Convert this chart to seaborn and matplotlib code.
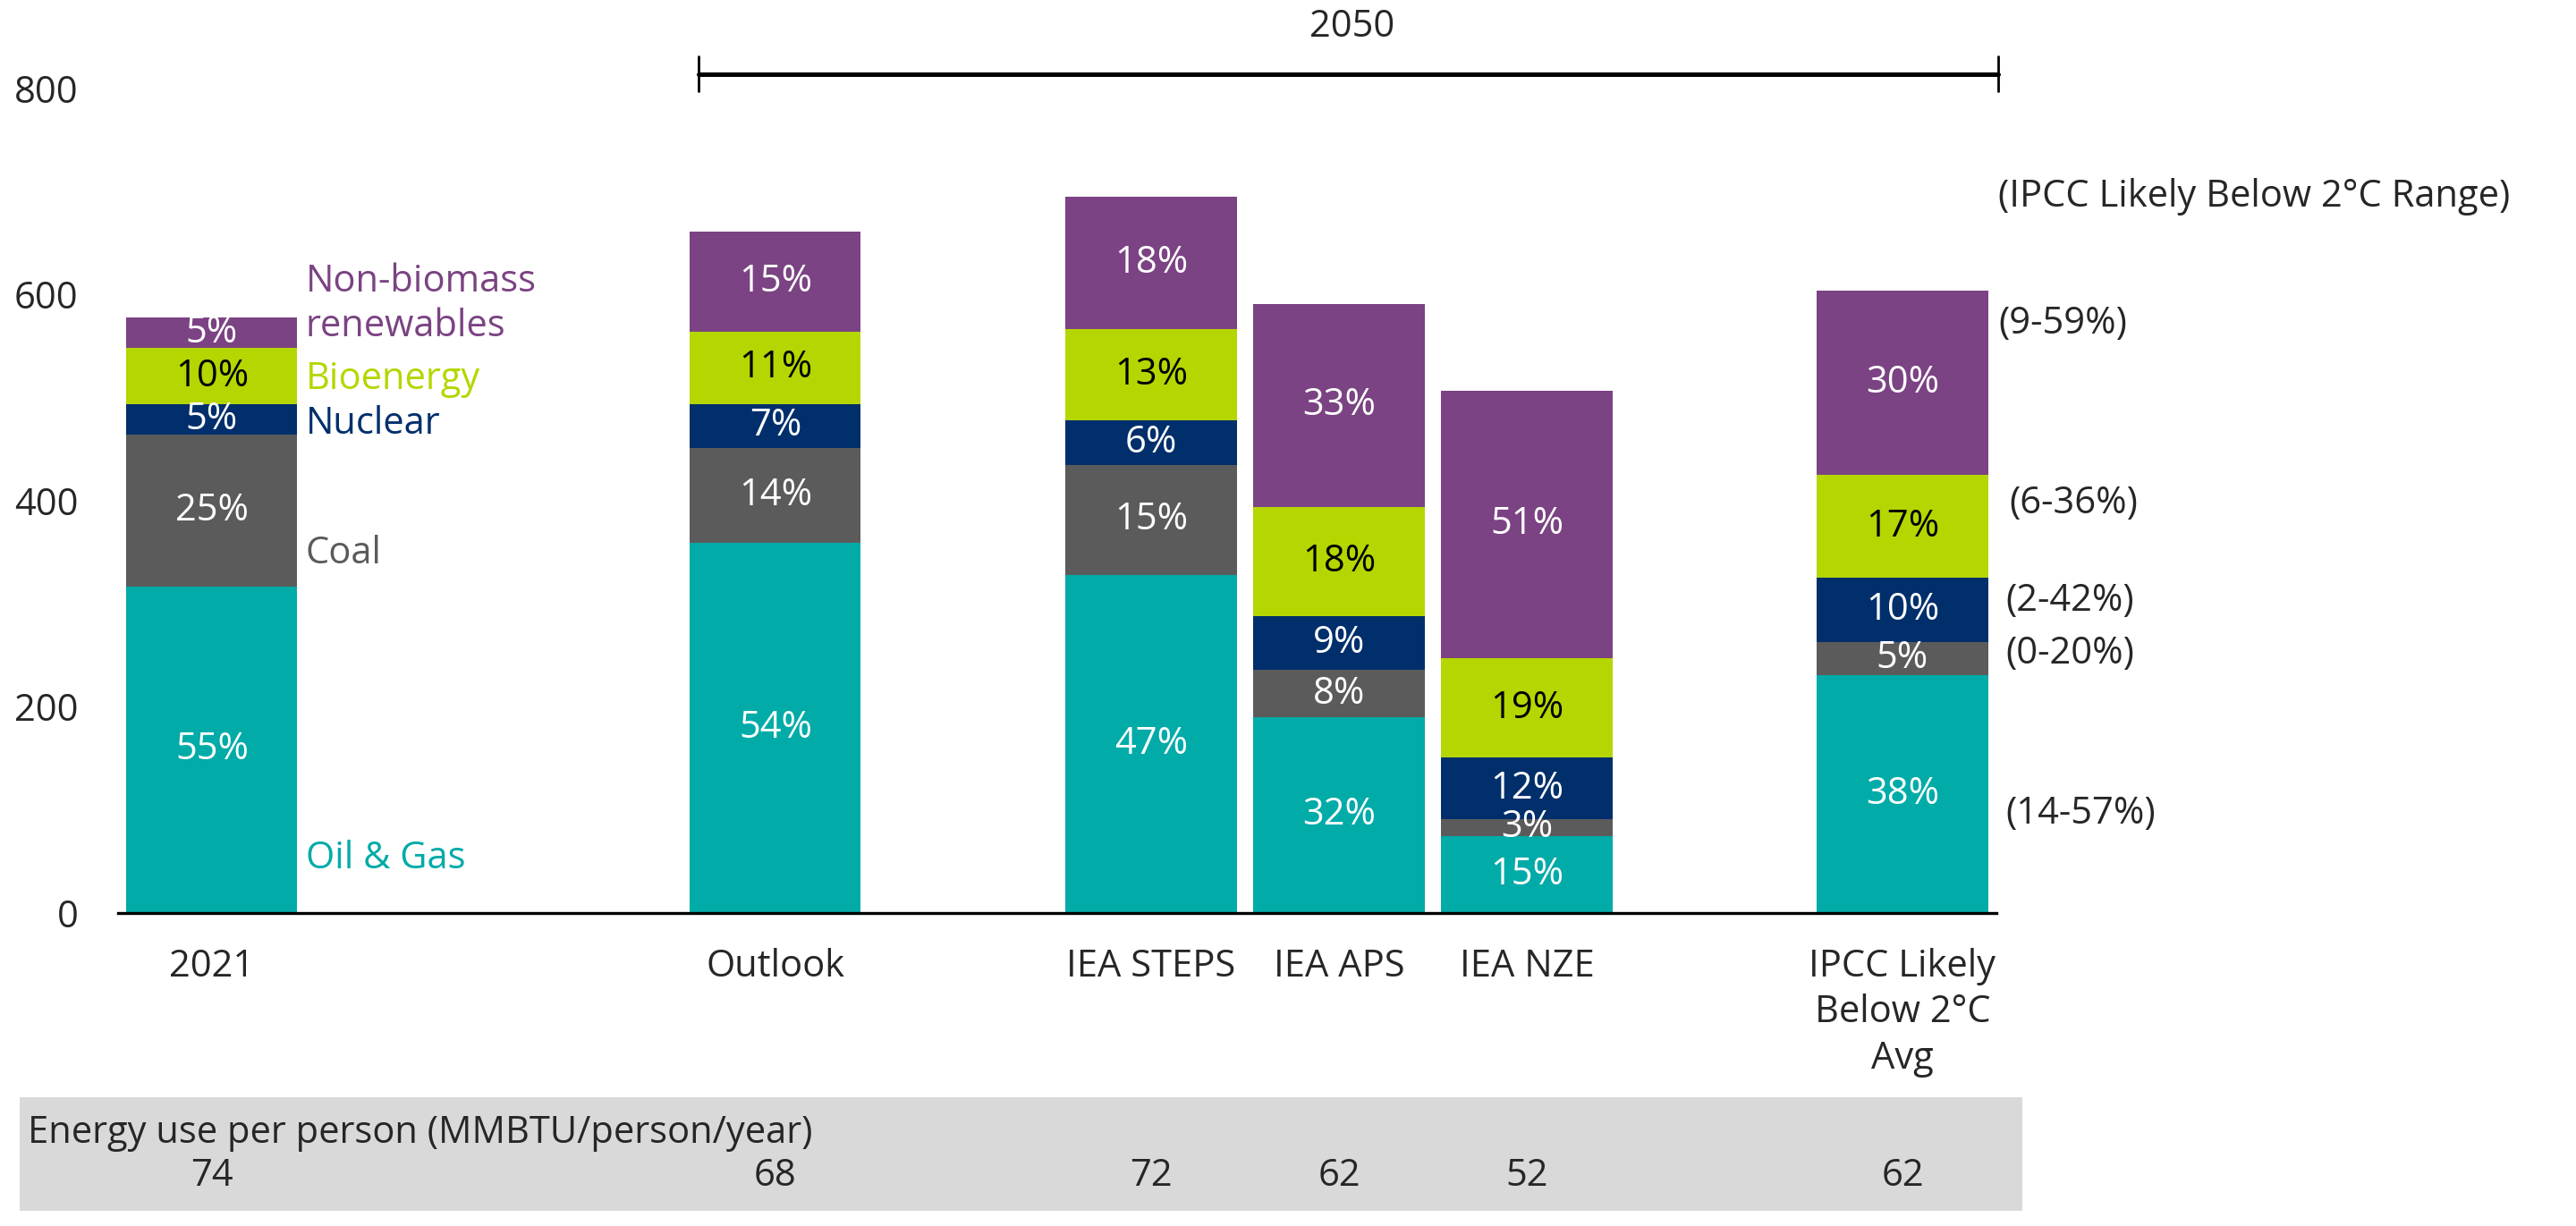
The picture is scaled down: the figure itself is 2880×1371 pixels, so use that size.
import matplotlib
matplotlib.use('Agg')
import matplotlib.pyplot as plt
import matplotlib.transforms as mtransforms
from matplotlib.patches import Rectangle
import pandas as pd
import seaborn as sns

# ---- data ----
scenarios = ['2021', 'Outlook', 'IEA STEPS', 'IEA APS', 'IEA NZE', 'IPCC Likely\nBelow 2°C\nAvg']
x_pos = [0, 3, 5, 6, 7, 9]

oil_gas = [317, 359, 328, 190, 75, 231]
coal = [147, 92, 107, 46, 16, 32]
nuclear = [30, 43, 43, 52, 60, 62]
bioenergy = [54, 70, 89, 106, 96, 100]
renewables = [30, 97, 128, 197, 260, 179]

pct_oil_gas = ['55%', '54%', '47%', '32%', '15%', '38%']
pct_coal = ['25%', '14%', '15%', '8%', '3%', '5%']
pct_nuclear = ['5%', '7%', '6%', '9%', '12%', '10%']
pct_bioenergy = ['10%', '11%', '13%', '18%', '19%', '17%']
pct_renewables = ['5%', '15%', '18%', '33%', '51%', '30%']

energy_per_person = [74, 68, 72, 62, 52, 62]
ipcc_ranges = ['(14-57%)', '(0-20%)', '(2-42%)', '(6-36%)', '(9-59%)']

# ---- settings ----
sources = ['Oil & Gas', 'Coal', 'Nuclear', 'Bioenergy', 'Non-biomass\nrenewables']
colors = ['#00ABA8', '#5B5B5B', '#002F6C', '#B5D600', '#7B4383']
text_colors = ['white', 'white', 'white', 'black', 'white']

sns.set_style('white')
plt.rcParams['font.family'] = ['Open Sans', 'DejaVu Sans']
FS = 15

df = pd.DataFrame({'x': x_pos, 'Oil & Gas': oil_gas, 'Coal': coal, 'Nuclear': nuclear,
                   'Bioenergy': bioenergy, 'Non-biomass\nrenewables': renewables})
cum = df[sources].cumsum(axis=1)
cum['x'] = x_pos

fig = plt.figure(figsize=(14.4, 6.855), dpi=200)
ax = fig.add_axes([0.0458, 0.2553, 0.7292, 0.6725])

# 積み上げ: 上の層から順に累積値で描いて下の層で上書き
for src, col in reversed(list(zip(sources, colors))):
    sns.barplot(data=cum, x='x', y=src, native_scale=True, color=col, saturation=1,
                width=0.91, errorbar=None, ax=ax, linewidth=0)

pcts = [pct_oil_gas, pct_coal, pct_nuclear, pct_bioenergy, pct_renewables]
for i, x in enumerate(x_pos):
    bottom = 0
    for j, src in enumerate(sources):
        h = df[src][i]
        ax.text(x, bottom + h / 2, pcts[j][i], ha='center', va='center',
                color=text_colors[j], fontsize=FS)
        bottom += h

# 2021 の凡例代わりのラベル
legend_y = [53, 349, 475, 518, 591]
for src, col, y in zip(sources, colors, legend_y):
    ax.text(0.5, y, src, color=col, fontsize=FS, ha='left', va='center', linespacing=1.25)

# IPCC range
ax.text(9.51, 695, '(IPCC Likely Below 2°C Range)', fontsize=FS, ha='left', va='center')
range_y = [96, 252, 303, 397, 572]
range_x = [9.55, 9.55, 9.55, 9.57, 9.51]
for txt, x, y in zip(ipcc_ranges, range_x, range_y):
    ax.text(x, y, txt, fontsize=FS, ha='left', va='center', clip_on=False)

# 2050 bracket
ax.plot([2.59, 9.51], [814, 814], color='black', lw=1.8, clip_on=False)
ax.plot([2.59, 2.59], [797, 831], color='black', lw=1.0, clip_on=False)
ax.plot([9.51, 9.51], [797, 831], color='black', lw=1.0, clip_on=False)
ax.text(6.07, 860, '2050', fontsize=FS, ha='center', va='center')

# 軸
ax.set_xlim(-0.5, 9.5)
ax.set_ylim(0, 800)
ax.set_yticks([0, 200, 400, 600, 800])
ax.set_xticks(x_pos)
ax.set_xticklabels(scenarios, linespacing=1.3)
ax.set_xlabel('')
ax.set_ylabel('')
ax.tick_params(axis='both', labelsize=FS, length=0)
ax.tick_params(axis='x', pad=14)
ax.tick_params(axis='y', pad=16)
for s in ['top', 'right', 'left']:
    ax.spines[s].set_visible(False)
ax.spines['bottom'].set_color('black')
ax.spines['bottom'].set_linewidth(1.2)

# 下の表
fig.patches.append(Rectangle((0.0076, 0.0124), 0.7775, 0.0926, transform=fig.transFigure,
                             facecolor='#D9D9D9', edgecolor='none', zorder=-1))
fig.text(0.0108, 0.0759, 'Energy use per person (MMBTU/person/year)', fontsize=FS,
         ha='left', va='center')
trans = mtransforms.blended_transform_factory(ax.transData, fig.transFigure)
for x, v in zip(x_pos, energy_per_person):
    ax.text(x, 0.0408, str(v), fontsize=FS, ha='center', va='center', transform=trans,
            clip_on=False)

plt.savefig('out.png', dpi=200)
